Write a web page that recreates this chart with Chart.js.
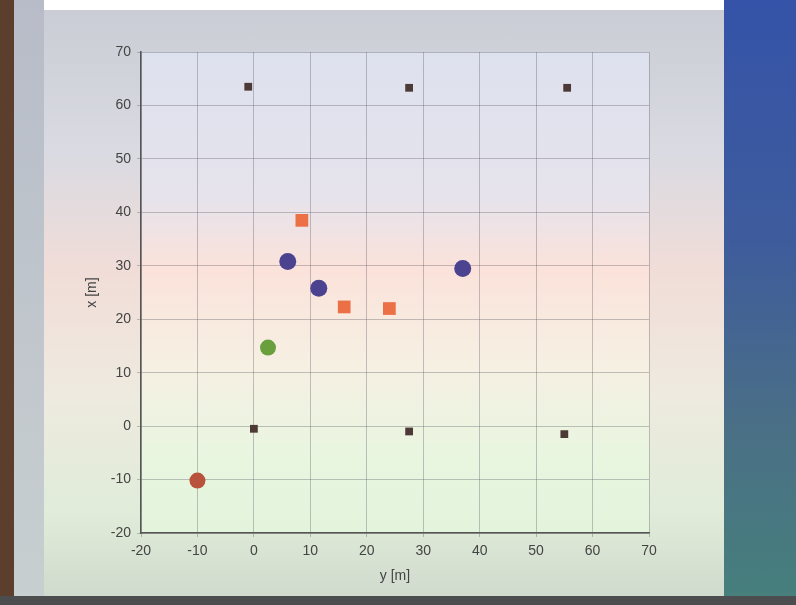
<!DOCTYPE html>
<html>
<head>
<meta charset="utf-8">
<script src="https://cdn.jsdelivr.net/npm/chart.js@4/dist/chart.umd.min.js"></script>
<style>
  html, body { margin: 0; padding: 0; }
  body {
    width: 796px; height: 605px; overflow: hidden; position: relative;
    background: linear-gradient(to bottom, #c9ccd4 0%, #d9dae2 25%, #f1ddd8 45%, #eeeadf 65%, #e0ecd9 85%, #cfd8cc 100%);
  }
  .frame-left { position: absolute; left: 0; top: 0; width: 14px; height: 605px; background: #5b3f2c; }
  .frame-left2 { position: absolute; left: 14px; top: 0; width: 30px; height: 605px; background: linear-gradient(to bottom, #b7bcc8, #c8cfd0); }
  .frame-right { position: absolute; left: 724px; top: 0; width: 72px; height: 605px; background: linear-gradient(to bottom, #3553a8 0%, #3e5c9c 40%, #4a6f86 70%, #46807c 100%); }
  .frame-bottom { position: absolute; left: 0; top: 596px; width: 796px; height: 9px; background: #4b4d4e; }
  .frame-top { position: absolute; left: 0; top: 0; width: 796px; height: 10px; background: #ffffff; }
  #wrap { position: absolute; left: 0; top: 0; width: 796px; height: 605px; }
</style>
</head>
<body>
<div class="frame-top"></div>
<div class="frame-left"></div>
<div class="frame-left2"></div>
<div class="frame-right"></div>
<div class="frame-bottom"></div>
<div id="wrap"><canvas id="chart" width="796" height="605"></canvas></div>
<script>
// y [m] is horizontal, x [m] is vertical (MATLAB figure)
const anchorY = [-1, 27.5, 55.5, 0, 27.5, 55];
const anchorX = [63.5, 63.3, 63.3, -0.5, -1, -1.5];

const orangeY = [8.5, 16, 24];
const orangeX = [38.5, 22.3, 22];

const blueY = [6, 11.5, 37];
const blueX = [30.8, 25.8, 29.5];

const greenY = [2.5];
const greenX = [14.7];

const redY = [-10];
const redX = [-10.2];

const axisMin = -20;
const axisMax = 70;
const tickStep = 10;

function pts(ys, xs) {
  return ys.map((v, i) => ({ x: v, y: xs[i] }));
}

const plotBg = {
  id: 'plotBg',
  beforeDraw(chart) {
    const { ctx, chartArea: a } = chart;
    const g = ctx.createLinearGradient(0, a.top, 0, a.bottom);
    g.addColorStop(0, '#dde1ee');
    g.addColorStop(0.3, '#e6e3ec');
    g.addColorStop(0.45, '#fbe2da');
    g.addColorStop(0.65, '#f6f0e2');
    g.addColorStop(0.85, '#e8f6e0');
    g.addColorStop(1, '#e3f3dc');
    ctx.save();
    ctx.fillStyle = g;
    ctx.fillRect(a.left, a.top, a.right - a.left, a.bottom - a.top);
    ctx.restore();
  }
};

const tickFont = { family: 'Liberation Sans, Arial, sans-serif', size: 14 };

new Chart(document.getElementById('chart'), {
  type: 'scatter',
  data: {
    datasets: [
      { data: pts(anchorY, anchorX), pointStyle: 'rect', pointRadius: 5.5, backgroundColor: '#4d3a36', borderColor: '#4d3a36', borderWidth: 0 },
      { data: pts(orangeY, orangeX), pointStyle: 'rect', pointRadius: 9, backgroundColor: '#ec7046', borderColor: '#ec7046', borderWidth: 0 },
      { data: pts(blueY, blueX), pointStyle: 'circle', pointRadius: 8.5, backgroundColor: '#4b4290', borderColor: '#4b4290', borderWidth: 0 },
      { data: pts(greenY, greenX), pointStyle: 'circle', pointRadius: 8, backgroundColor: '#6a9f3e', borderColor: '#6a9f3e', borderWidth: 0 },
      { data: pts(redY, redX), pointStyle: 'circle', pointRadius: 8, backgroundColor: '#b9523c', borderColor: '#b9523c', borderWidth: 0 }
    ]
  },
  options: {
    responsive: false,
    animation: false,
    layout: { padding: { left: 80, right: 147, top: 52, bottom: 16 } },
    plugins: { legend: { display: false }, tooltip: { enabled: false } },
    scales: {
      x: {
        type: 'linear', min: axisMin, max: axisMax,
        ticks: { stepSize: tickStep, color: '#444', font: tickFont, padding: 6 },
        grid: { color: 'rgba(90,90,100,0.35)', lineWidth: 1, tickLength: 4 },
        border: { color: '#555', width: 1.5 },
        title: { display: true, text: 'y [m]', color: '#444', font: tickFont, padding: { top: 4 } },
        afterFit(s) { s.height = 56; }
      },
      y: {
        type: 'linear', min: axisMin, max: axisMax,
        ticks: { stepSize: tickStep, color: '#444', font: tickFont, padding: 6 },
        grid: { color: 'rgba(90,90,100,0.35)', lineWidth: 1, tickLength: 4 },
        border: { color: '#555', width: 1.5 },
        title: { display: true, text: 'x [m]', color: '#444', font: tickFont, padding: { bottom: 6 } },
        afterFit(s) { s.width = 61; }
      }
    }
  },
  plugins: [plotBg]
});
</script>
</body>
</html>
